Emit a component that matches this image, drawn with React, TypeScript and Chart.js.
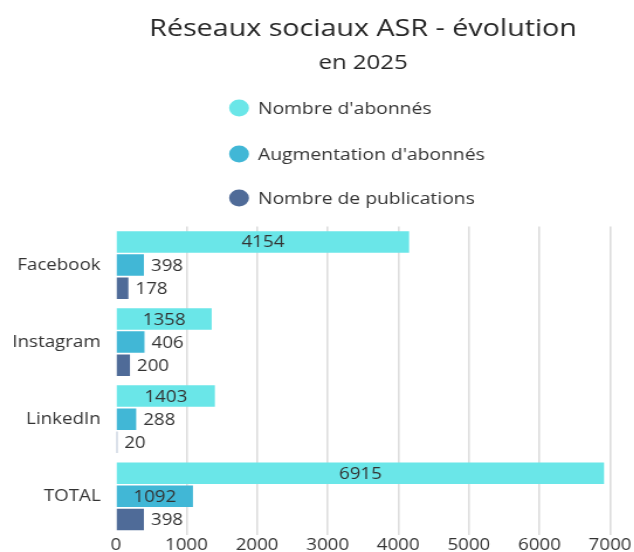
import React, { useEffect, useRef } from 'react';
import { Chart, registerables } from 'chart.js';

Chart.register(...registerables);

// ---- data ----
const categories = ['Facebook', 'Instagram', 'LinkedIn', 'TOTAL'];
const seriesNames = ["Nombre d'abonnés", "Augmentation d'abonnés", 'Nombre de publications'];
const abonnes = [4154, 1358, 1403, 6915];
const augmentation = [398, 406, 288, 1092];
const publications = [178, 200, 20, 398];
const xTickValues = [0, 1000, 2000, 3000, 4000, 5000, 6000, 7000];
const titleText = 'Réseaux sociaux ASR - évolution';
const subtitleText = 'en 2025';

// ---- style ----
const colors = ['#6ae6e8', '#41b7d6', '#4f6b98'];
const FONT = "'Open Sans', 'Noto Sans', sans-serif";
const TEXT = '#333333';
const STRETCH = 1.17;
const W = 542;
const H = 559;

const headerPlugin = {
  id: 'header',
  afterDraw(chart: any) {
    const { ctx } = chart;
    const cx = 310.3;
    ctx.save();
    ctx.fillStyle = '#262626';
    ctx.textAlign = 'center';
    ctx.textBaseline = 'middle';
    ctx.font = `24.5px ${FONT}`;
    ctx.fillText(titleText, cx, 29);
    ctx.font = `20.5px ${FONT}`;
    ctx.fillText(subtitleText, cx, 63);

    // legend, stacked vertically, left aligned block
    ctx.font = `16.5px ${FONT}`;
    const r = 8.5;
    const rows = [108, 154, 198];
    const ds = chart.data.datasets;
    const circleX = 204.3;
    const textX = 220.5;
    ds.forEach((d: any, i: number) => {
      const y = rows[i];
      ctx.beginPath();
      ctx.arc(circleX, y, r, 0, Math.PI * 2);
      ctx.fillStyle = d.backgroundColor;
      ctx.fill();
      ctx.fillStyle = TEXT;
      ctx.textAlign = 'left';
      ctx.fillText(d.label, textX, y + 1);
    });
    ctx.restore();
  },
};

const valueLabelPlugin = {
  id: 'valueLabels',
  afterDatasetsDraw(chart: any) {
    const { ctx } = chart;
    ctx.save();
    ctx.font = `16px ${FONT}`;
    ctx.fillStyle = TEXT;
    ctx.textBaseline = 'middle';
    chart.data.datasets.forEach((d: any, di: number) => {
      const meta = chart.getDatasetMeta(di);
      meta.data.forEach((bar: any, i: number) => {
        const txt = String(d.data[i]);
        const tw = ctx.measureText(txt).width;
        const bw = bar.x - bar.base;
        if (tw + 10 < bw) {
          ctx.textAlign = 'center';
          ctx.fillText(txt, (bar.x + bar.base) / 2, bar.y + 1);
        } else {
          ctx.textAlign = 'left';
          ctx.fillText(txt, bar.x + 6, bar.y + 1);
        }
      });
    });
    ctx.restore();
  },
};

export default function App() {
  const ref = useRef<HTMLCanvasElement | null>(null);

  useEffect(() => {
    if (!ref.current) return;
    const chart = new Chart(ref.current, {
      type: 'bar',
      data: {
        labels: categories,
        datasets: [
          { label: seriesNames[0], data: abonnes, backgroundColor: colors[0] },
          { label: seriesNames[1], data: augmentation, backgroundColor: colors[1] },
          { label: seriesNames[2], data: publications, backgroundColor: colors[2] },
        ],
      },
      options: {
        indexAxis: 'y',
        responsive: false,
        devicePixelRatio: 1,
        animation: false,
        datasets: {
          bar: { categoryPercentage: 0.9, barPercentage: 0.93 },
        },
        layout: { padding: { top: 226.5, left: 0, right: 20.6, bottom: 3 } },
        plugins: {
          legend: { display: false },
          title: { display: false },
          tooltip: { enabled: false },
        },
        scales: {
          x: {
            min: 0,
            max: 7000,
            afterBuildTicks: (scale: any) => {
              scale.ticks = xTickValues.map((v) => ({ value: v }));
            },
            afterFit: (scale: any) => {
              scale.paddingRight = 20.6;
            },
            ticks: {
              color: TEXT,
              font: { family: FONT, size: 16 },
              padding: 1,
              maxRotation: 0,
              callback: (v: any) => String(v),
            },
            grid: {
              drawTicks: false,
              lineWidth: 1.6,
              color: (c: any) => (c.tick && c.tick.value === 0 ? 'rgba(0,0,0,0)' : '#dddddd'),
            },
            border: { display: false },
          },
          y: {
            afterFit: (scale: any) => {
              scale.width = 99;
            },
            ticks: {
              color: TEXT,
              font: { family: FONT, size: 16 },
              padding: 13,
            },
            grid: { display: false, drawTicks: false },
            border: { display: false },
          },
        },
      },
      plugins: [headerPlugin, valueLabelPlugin],
    });
    return () => chart.destroy();
  }, []);

  return (
    <div
      style={{
        position: 'fixed',
        left: 0,
        top: 0,
        width: 634,
        height: 552,
        overflow: 'hidden',
        background: '#ffffff',
      }}
    >
      <canvas
        ref={ref}
        width={W}
        height={H}
        style={{
          width: W,
          height: H,
          display: 'block',
          transform: `scaleX(${STRETCH})`,
          transformOrigin: '0 0',
        }}
      />
    </div>
  );
}
